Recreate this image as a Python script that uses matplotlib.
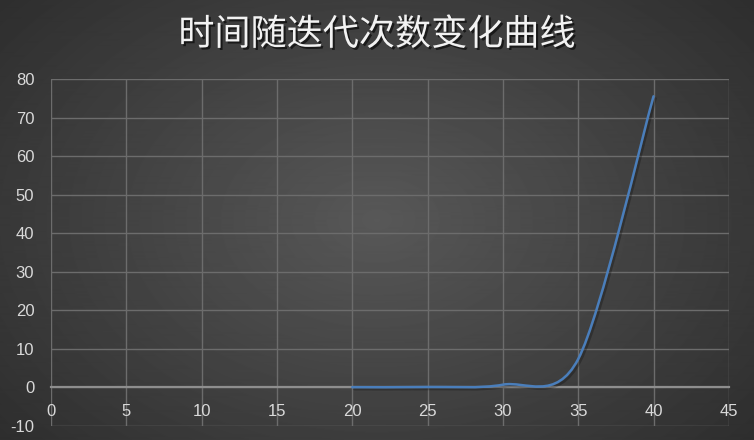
import numpy as np
import matplotlib
matplotlib.use("Agg")
import matplotlib.pyplot as plt
from matplotlib.path import Path
from matplotlib.patches import PathPatch
import matplotlib.patheffects as pe

plt.rcParams['font.family'] = ['Liberation Sans', 'DejaVu Sans']
plt.rcParams['axes.unicode_minus'] = False

title = "时间随迭代次数变化曲线"
iterations = [20, 25, 30, 35, 40]
times = [0.005, 0.05, 0.65, 7.3, 75.5]
x_ticks = list(range(0, 50, 5))
y_ticks = list(range(-10, 90, 10))


def smooth_path(xs, ys, k=0.15):
    # Excel-style smoothed line: Catmull-Rom-like segments drawn as cubic Beziers
    pts = np.column_stack([xs, ys]).astype(float)
    n = len(pts)
    verts = [pts[0]]
    codes = [Path.MOVETO]
    for i in range(n - 1):
        p0 = pts[i - 1] if i > 0 else pts[i]
        p1 = pts[i]
        p2 = pts[i + 1]
        p3 = pts[i + 2] if i + 2 < n else pts[i + 1]
        verts += [p1 + (p2 - p0) * k, p2 - (p3 - p1) * k, p2]
        codes += [Path.CURVE4] * 3
    return Path(verts, codes)


def main():
    fig = plt.figure(figsize=(7.54, 4.40), dpi=100)

    # dark radial background
    bg = fig.add_axes([0, 0, 1, 1])
    bg.axis('off')
    yy, xx = np.mgrid[0:440, 0:754]
    r = np.sqrt(((xx - 377) / 377) ** 2 + ((yy - 220) / 260) ** 2)
    shade = np.clip(0.345 - 0.126 * r, 0, 1)
    bg.imshow(shade, cmap='gray', vmin=0, vmax=1, aspect='auto',
              extent=[0, 1, 0, 1], interpolation='bilinear')
    bg.set_xlim(0, 1)
    bg.set_ylim(0, 1)

    ax = fig.add_axes([0.0676, 0.0325, 0.899, 0.788])
    ax.set_facecolor('none')
    ax.set_xlim(0, 45)
    ax.set_ylim(-10, 80)
    ax.set_xticks(x_ticks)
    ax.set_yticks(y_ticks)
    ax.grid(True, color='#6c6c6c', linewidth=1)
    ax.set_axisbelow(True)

    for side in ['left', 'right', 'top']:
        ax.spines[side].set_visible(False)
    ax.spines['bottom'].set_position(('data', 0))
    ax.spines['bottom'].set_color('#8e8e8e')
    ax.spines['bottom'].set_linewidth(1.6)

    ax.tick_params(axis='both', length=0, colors='#d9d9d9', labelsize=12, pad=12)

    curve = PathPatch(smooth_path(iterations, times), fill=False,
                      edgecolor='#4a7ebb', linewidth=1.8, capstyle='round',
                      zorder=3,
                      path_effects=[pe.SimpleLineShadow(offset=(1.5, -1.5), alpha=0.25),
                                    pe.Normal()])
    ax.add_patch(curve)

    fig.text(0.5, 1 - 35 / 440, title, family=['Noto Sans CJK SC', 'DejaVu Sans'],
             fontsize=26, color='#f2f2f2', ha='center', va='center',
             path_effects=[pe.withSimplePatchShadow(offset=(1.5, -1.5),
                                                    shadow_rgbFace='black', alpha=0.6)])

    fig.savefig("out.png", dpi=100)


if __name__ == "__main__":
    main()
